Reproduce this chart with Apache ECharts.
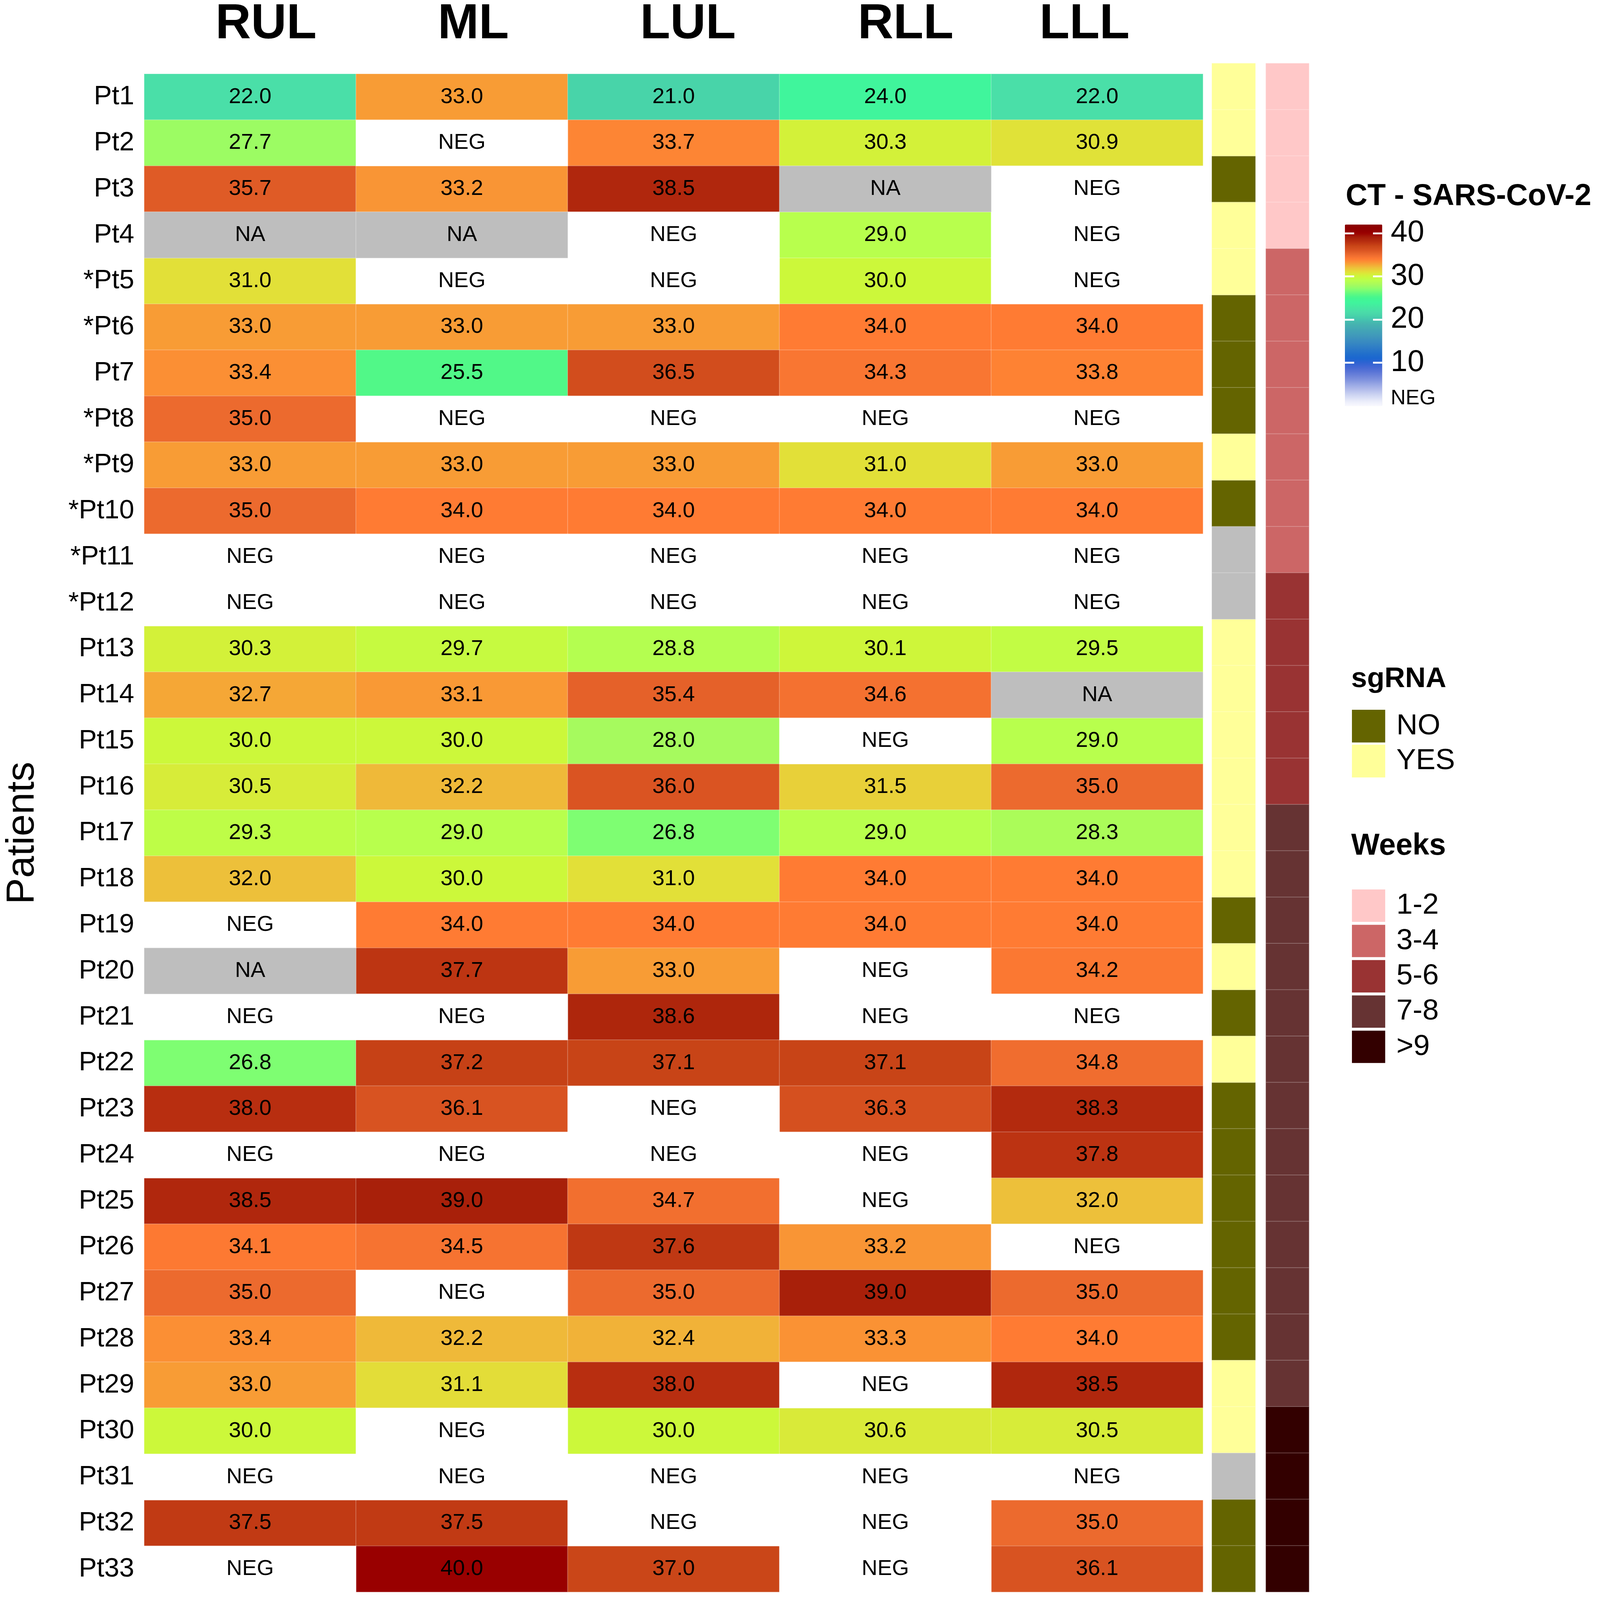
<!DOCTYPE html>
<html>
<head>
<meta charset="utf-8">
<script src="https://cdn.jsdelivr.net/npm/echarts@6/dist/echarts.min.js"></script>
<style>
html,body{margin:0;padding:0;background:#fff;overflow:hidden;}
#chart{width:100vw;height:100vh;}
</style>
</head>
<body>
<div id="chart"></div>
<script>
// ---------------- DATA ----------------
const lobes = ['RUL', 'ML', 'LUL', 'RLL', 'LLL'];
const patients = ['Pt1','Pt2','Pt3','Pt4','*Pt5','*Pt6','Pt7','*Pt8','*Pt9','*Pt10','*Pt11','*Pt12','Pt13','Pt14','Pt15','Pt16','Pt17','Pt18','Pt19','Pt20','Pt21','Pt22','Pt23','Pt24','Pt25','Pt26','Pt27','Pt28','Pt29','Pt30','Pt31','Pt32','Pt33'];

const RUL = [22.0,27.7,35.7,'NA',31.0,33.0,33.4,35.0,33.0,35.0,'NEG','NEG',30.3,32.7,30.0,30.5,29.3,32.0,'NEG','NA','NEG',26.8,38.0,'NEG',38.5,34.1,35.0,33.4,33.0,30.0,'NEG',37.5,'NEG'];
const ML  = [33.0,'NEG',33.2,'NA','NEG',33.0,25.5,'NEG',33.0,34.0,'NEG','NEG',29.7,33.1,30.0,32.2,29.0,30.0,34.0,37.7,'NEG',37.2,36.1,'NEG',39.0,34.5,'NEG',32.2,31.1,'NEG','NEG',37.5,40.0];
const LUL = [21.0,33.7,38.5,'NEG','NEG',33.0,36.5,'NEG',33.0,34.0,'NEG','NEG',28.8,35.4,28.0,36.0,26.8,31.0,34.0,33.0,38.6,37.1,'NEG','NEG',34.7,37.6,35.0,32.4,38.0,30.0,'NEG','NEG',37.0];
const RLL = [24.0,30.3,'NA',29.0,30.0,34.0,34.3,'NEG',31.0,34.0,'NEG','NEG',30.1,34.6,'NEG',31.5,29.0,34.0,34.0,'NEG','NEG',37.1,36.3,'NEG','NEG',33.2,39.0,33.3,'NEG',30.6,'NEG','NEG','NEG'];
const LLL = [22.0,30.9,'NEG','NEG','NEG',34.0,33.8,'NEG',33.0,34.0,'NEG','NEG',29.5,'NA',29.0,35.0,28.3,34.0,34.0,34.2,'NEG',34.8,38.3,37.8,32.0,'NEG',35.0,34.0,38.5,30.5,'NEG',35.0,36.1];

const sgRNA = ['YES','YES','NO','YES','YES','NO','NO','NO','YES','NO','NA','NA','YES','YES','YES','YES','YES','YES','NO','YES','NO','YES','NO','NO','NO','NO','NO','NO','YES','YES','NA','NO','NO'];
const weeks = ['1-2','1-2','1-2','1-2','3-4','3-4','3-4','3-4','3-4','3-4','3-4','5-6','5-6','5-6','5-6','5-6','7-8','7-8','7-8','7-8','7-8','7-8','7-8','7-8','7-8','7-8','7-8','7-8','7-8','>9','>9','>9','>9'];

const sgCategories = ['NO', 'YES'];
const weekCategories = ['1-2', '3-4', '5-6', '7-8', '>9'];
const ctTicks = [10, 20, 30, 40];
const ctRange = [0, 42];

// ---------------- STYLE ----------------
const FONT = 'Liberation Sans';
const ctColors = ['#F8F8FF','#ECEEFA','#D8DEF5','#C4CCF0','#AEB9EA','#98A7E4','#8093DE','#6C82DA','#5873D6','#4468D4',
  '#2F63D2','#1A66D0','#206ECC','#2A78C8','#3282C4','#3A8CC0','#3E96BC','#42A0B8','#44AAB4','#46B4B0',
  '#44C4AE','#48D4A9','#4ADFA8','#44EAA0','#40F59C','#42F690','#60FA80','#86FF6E','#A6FA5E','#B8FF4D',
  '#CCF83A','#E2E038','#EDC03A','#F89C35','#FF7B33','#EC6A2E','#DA5422','#CA4618','#B82E10','#A8200A',
  '#990000','#8E0000','#8B0000'];
const sgColors = {NO: '#646400', YES: '#FFFF99', NA: '#BEBEBE'};
const weekColors = {'1-2': '#FFC8C8', '3-4': '#CC6666', '5-6': '#993333', '7-8': '#663333', '>9': '#330000'};
// horizontal shift of each column header relative to its column centre (design px)
const headerShift = [43, 31, 39, 55, -34];

// design size of the reference; everything is scaled to the real viewport
const W0 = 4328, H0 = 4398;
const vw = window.innerWidth || W0, vh = window.innerHeight || H0;
const sx = vw / W0, sy = vh / H0, sf = (sx + sy) / 2;
const X = v => v * sx, Y = v => v * sy, F = v => Math.round(v * sf);

const cellBorder = {borderColor: 'rgba(255,255,255,0.22)', borderWidth: 2};
const labelStyle = {show: true, fontFamily: FONT, fontSize: F(60), color: '#000'};

const G = {left: 367, top: 174, width: 2887, height: 4202};

// ---------------- BUILD ----------------
const lobeValues = [RUL, ML, LUL, RLL, LLL];
const numData = [], negData = [], naData = [];
lobeValues.forEach((arr, j) => {
  arr.forEach((v, i) => {
    if (typeof v === 'number') numData.push([j, i, v]);
    else if (v === 'NEG') negData.push([j, i, 0]);
    else naData.push([j, i, 0]);
  });
});

function catSeries(name, list, key, color, axisIdx) {
  const data = [];
  list.forEach((v, i) => { if (v === key) data.push([0, i, 1]); });
  return {
    name: name, type: 'heatmap', xAxisIndex: axisIdx, yAxisIndex: axisIdx,
    data: data, itemStyle: Object.assign({color: color}, cellBorder),
    emphasis: {disabled: true}, label: {show: false}
  };
}

const series = [
  {name: 'CT', type: 'heatmap', xAxisIndex: 0, yAxisIndex: 0, data: numData,
    itemStyle: cellBorder, emphasis: {disabled: true},
    label: Object.assign({formatter: p => p.value[2].toFixed(1)}, labelStyle)},
  {name: 'NEG', type: 'heatmap', xAxisIndex: 0, yAxisIndex: 0, data: negData,
    itemStyle: Object.assign({color: '#FFFFFF'}, cellBorder), emphasis: {disabled: true},
    label: Object.assign({formatter: 'NEG'}, labelStyle)},
  {name: 'NAcell', type: 'heatmap', xAxisIndex: 0, yAxisIndex: 0, data: naData,
    itemStyle: Object.assign({color: '#BEBEBE'}, cellBorder), emphasis: {disabled: true},
    label: Object.assign({formatter: 'NA'}, labelStyle)}
];
sgCategories.forEach(c => series.push(catSeries(c, sgRNA, c, sgColors[c], 1)));
series.push(catSeries('sgNA', sgRNA, 'NA', sgColors.NA, 1));
weekCategories.forEach(c => series.push(catSeries(c, weeks, c, weekColors[c], 2)));

const hiddenCat = (data, gi) => ({type: 'category', data: data, gridIndex: gi, show: false});
const tickStyle = {show: true, inside: true, length: X(25), customValues: ctTicks,
  lineStyle: {color: '#fff', width: Y(5)}};

const headerFont = {fontFamily: FONT, fontSize: F(134), fontWeight: 'bold', color: '#000'};
const headerRich = {};
headerShift.forEach((s, i) => {
  const p = Math.abs(X(2 * s));
  headerRich['h' + i] = Object.assign({padding: s >= 0 ? [0, 0, 0, p] : [0, p, 0, 0]}, headerFont);
});

const option = {
  backgroundColor: '#fff',
  animation: false,
  textStyle: {fontFamily: FONT},
  title: [
    {text: 'CT - SARS-CoV-2', left: X(3640), top: Y(500), padding: 0,
      textStyle: {fontFamily: FONT, fontSize: F(82), fontWeight: 'bold', color: '#000'}},
    {text: 'sgRNA', left: X(3655), top: Y(1828), padding: 0,
      textStyle: {fontFamily: FONT, fontSize: F(78), fontWeight: 'bold', color: '#000'}},
    {text: 'Weeks', left: X(3655), top: Y(2285), padding: 0,
      textStyle: {fontFamily: FONT, fontSize: F(82), fontWeight: 'bold', color: '#000'}}
  ],
  grid: [
    {left: X(G.left), top: Y(G.top), width: X(G.width), height: Y(G.height)},
    {left: X(3278), top: Y(G.top), width: X(118), height: Y(G.height)},
    {left: X(3424), top: Y(G.top), width: X(117), height: Y(G.height)},
    {left: X(3638), top: Y(617), width: X(101), height: Y(499)}
  ],
  xAxis: [
    {type: 'category', data: lobes, gridIndex: 0, position: 'top',
      axisLine: {show: false}, axisTick: {show: false}, splitLine: {show: false},
      axisLabel: Object.assign({margin: Y(68), interval: 0, hideOverlap: false, rich: headerRich,
        formatter: (v, i) => '{h' + i + '|' + v + '}'}, headerFont)},
    hiddenCat(['sgRNA'], 1),
    hiddenCat(['Weeks'], 2),
    {type: 'value', gridIndex: 3, show: false, min: 0, max: 1}
  ],
  yAxis: [
    {type: 'category', data: patients, gridIndex: 0, inverse: true,
      axisLine: {show: false}, axisTick: {show: false}, splitLine: {show: false},
      axisLabel: {fontFamily: FONT, fontSize: F(74), color: '#000', margin: X(27), interval: 0},
      name: 'Patients', nameLocation: 'middle', nameRotate: 90, nameGap: X(275),
      nameTextStyle: {fontFamily: FONT, fontSize: F(108), color: '#000'}},
    Object.assign(hiddenCat(patients, 1), {inverse: true}),
    Object.assign(hiddenCat(patients, 2), {inverse: true}),
    {type: 'value', gridIndex: 3, min: ctRange[0], max: ctRange[1], position: 'left', z: 20,
      axisLine: {show: false}, splitLine: {show: false}, axisLabel: {show: false},
      axisTick: tickStyle},
    {type: 'value', gridIndex: 3, min: ctRange[0], max: ctRange[1], position: 'right', z: 20,
      axisLine: {show: false}, splitLine: {show: false},
      axisTick: tickStyle,
      axisLabel: {show: true, customValues: [1.7].concat(ctTicks), margin: X(23),
        fontFamily: FONT, fontSize: F(82), color: '#000',
        formatter: v => (v < 5 ? '{n|NEG}' : String(v)),
        rich: {n: {fontFamily: FONT, fontSize: F(56), color: '#000'}}}}
  ],
  visualMap: [{
    type: 'continuous', seriesIndex: 0, min: ctRange[0], max: ctRange[1],
    left: X(3638), top: Y(617), itemWidth: X(101), itemHeight: Y(499), padding: 0,
    calculable: false, hoverLink: false, show: true, text: null, showLabel: false,
    inRange: {color: ctColors}
  }],
  legend: [
    {data: sgCategories, orient: 'vertical', left: X(3657), top: Y(1951), padding: 0,
      icon: 'rect', itemWidth: X(90), itemHeight: Y(90), itemGap: Y(6), selectedMode: false,
      itemStyle: {borderWidth: 0},
      textStyle: {fontFamily: FONT, fontSize: F(80), color: '#000', padding: [0, 0, 0, X(25)]}},
    {data: weekCategories, orient: 'vertical', left: X(3657), top: Y(2445), padding: 0,
      icon: 'rect', itemWidth: X(90), itemHeight: Y(89), itemGap: Y(8), selectedMode: false,
      itemStyle: {borderWidth: 0},
      textStyle: {fontFamily: FONT, fontSize: F(80), color: '#000', padding: [0, 0, 0, X(25)]}}
  ],
  series: series
};

const chart = echarts.init(document.getElementById('chart'), null, {renderer: 'canvas'});
chart.setOption(option);
</script>
</body>
</html>
